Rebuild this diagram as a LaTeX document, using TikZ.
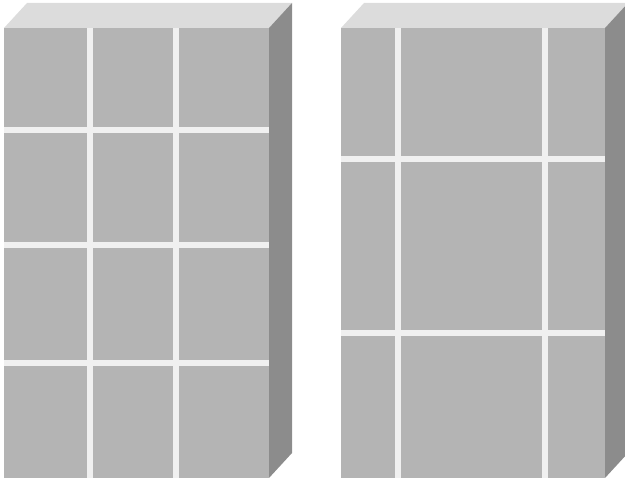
\documentclass[tikz,border=0pt]{standalone}
\usetikzlibrary{calc}
\definecolor{frontc}{RGB}{180,180,180}
\definecolor{topc}{RGB}{220,220,220}
\definecolor{sidec}{RGB}{140,140,140}
\definecolor{gridc}{RGB}{240,240,240}
\tikzset{
  frontface/.style={fill=frontc},
  topface/.style={fill=topc},
  sideface/.style={fill=sidec},
  gridline/.style={draw=gridc, line width=5.5pt},
}
\begin{document}
\begin{tikzpicture}[x=1pt,y=-1pt]
\useasboundingbox (0,0) rectangle (625,481);
\clip (0,0) rectangle (625,481);
% ---------- left cabinet ----------
\fill[topface] (4,28) -- (269,28) -- (292,3) -- (27,3) -- cycle;
\fill[sideface] (269,28) -- (292,3) -- (292,453) -- (269,478) -- cycle;
\fill[frontface] (4,28) rectangle (269,478);
\foreach \xx in {90,176} \draw[gridline] (\xx,28) -- (\xx,478);
\foreach \yy in {130,245,363} \draw[gridline] (4,\yy) -- (269,\yy);
% ---------- right cabinet ----------
\fill[topface] (341,28) -- (605,28) -- (628,3) -- (364,3) -- cycle;
\fill[sideface] (605,28) -- (628,3) -- (628,453) -- (605,478) -- cycle;
\fill[frontface] (341,28) rectangle (605,478);
\foreach \xx in {398,545} \draw[gridline] (\xx,28) -- (\xx,478);
\foreach \yy in {159,333} \draw[gridline] (341,\yy) -- (605,\yy);
\end{tikzpicture}
\end{document}
